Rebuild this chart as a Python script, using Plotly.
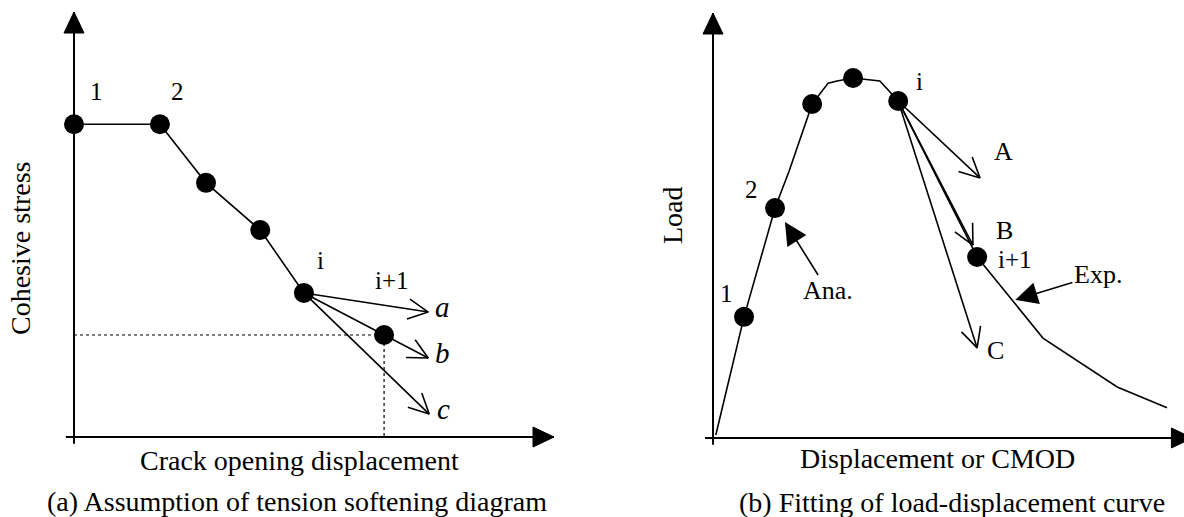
import math
import plotly.graph_objects as go

W, H = 1184, 517
FONT = "Liberation Serif"

# ---------------- data (arbitrary units) ----------------
# (a) tension softening diagram: points 1, 2, ..., i
cod = [0.00, 1.79, 2.75, 3.88, 4.79]
stress = [7.36, 7.36, 5.98, 4.87, 3.39]
cod_next = [6.46]          # point i+1
stress_next = [2.40]
trial_names = ["a", "b", "c"]
trial_cod = [7.38, 7.38, 7.40]
trial_stress = [2.94, 1.86, 0.54]

# (b) load-displacement curve (experiment) and analysed points
exp_disp = [0.06, 0.66, 1.32, 1.62, 2.11, 2.45, 2.64, 2.98, 3.55, 3.94, 5.62, 7.02, 8.60, 9.66]
exp_load = [0.07, 2.85, 5.41, 6.28, 7.86, 8.35, 8.40, 8.47, 8.40, 7.93, 4.26, 2.35, 1.20, 0.71]
ana_disp = [0.66, 1.32, 2.11, 2.98, 3.94, 5.62]
ana_load = [2.85, 5.41, 7.86, 8.47, 7.93, 4.26]
fit_names = ["A", "B", "C"]
fit_disp = [5.68, 5.53, 5.62]
fit_load = [6.12, 4.54, 2.12]

# ---------------- layout geometry (pixels) ----------------
PA = dict(x0=74, y0=437, sx=48.0, sy=42.5, xa="x", ya="y")
PB = dict(x0=713, y0=438, sx=47.0, sy=42.5, xa="x2", ya="y2")
AXA = (-0.17, 10.0, -0.16, 10.0)
AXB = (-0.17, 10.2, -0.16, 10.0)

fig = go.Figure()


def line(xs, ys, p, width=1.6, dash="solid"):
    fig.add_trace(go.Scatter(x=xs, y=ys, xaxis=p["xa"], yaxis=p["ya"], mode="lines",
                             line=dict(color="black", width=width, dash=dash),
                             hoverinfo="skip", showlegend=False, cliponaxis=False))


def head_pts(tx, ty, fx, fy, p, length, half):
    sx, sy = p["sx"], p["sy"]
    dx, dy = (tx - fx) * sx, (ty - fy) * sy
    n = math.hypot(dx, dy)
    ux, uy = dx / n, dy / n
    bx, by = tx * sx - length * ux, ty * sy - length * uy
    px, py = -uy, ux
    l = ((bx + half * px) / sx, (by + half * py) / sy)
    r = ((bx - half * px) / sx, (by - half * py) / sy)
    return l, (tx, ty), r


def open_heads(tips_x, tips_y, fx, fy, p, length=20, half=10):
    xs, ys = [], []
    for tx, ty in zip(tips_x, tips_y):
        l, t, r = head_pts(tx, ty, fx, fy, p, length, half)
        xs += [l[0], t[0], r[0], None]
        ys += [l[1], t[1], r[1], None]
    line(xs, ys, p, width=1.6)


def filled_head(tx, ty, fx, fy, p, length=21, half=10):
    l, t, r = head_pts(tx, ty, fx, fy, p, length, half)
    fig.add_trace(go.Scatter(x=[l[0], t[0], r[0], l[0]], y=[l[1], t[1], r[1], l[1]],
                             xaxis=p["xa"], yaxis=p["ya"], mode="lines", fill="toself",
                             fillcolor="black", line=dict(color="black", width=1),
                             hoverinfo="skip", showlegend=False, cliponaxis=False))


def axes_arrows(p, ext):
    xmin, xmax, ymin, ymax = ext
    line([xmin, xmax], [0, 0], p, width=2)
    line([0, 0], [ymin, ymax], p, width=2)
    filled_head(xmax, 0, 0, 0, p)
    filled_head(0, ymax, 0, 0, p)


def dots(xs, ys, p):
    fig.add_trace(go.Scatter(x=xs, y=ys, xaxis=p["xa"], yaxis=p["ya"], mode="markers",
                             marker=dict(size=20, color="black", line=dict(width=0)),
                             hoverinfo="skip", showlegend=False, cliponaxis=False))


# ---------------- panel (a) ----------------
axes_arrows(PA, AXA)
line([0, cod_next[0], cod_next[0]], [stress_next[0], stress_next[0], 0], PA, width=1.2, dash="dot")
line(cod, stress, PA)
xs, ys = [], []
for tx, ty in zip(trial_cod, trial_stress):
    xs += [cod[-1], tx, None]
    ys += [stress[-1], ty, None]
line(xs, ys, PA)
open_heads(trial_cod, trial_stress, cod[-1], stress[-1], PA)
dots(cod + cod_next, stress + stress_next, PA)

# ---------------- panel (b) ----------------
axes_arrows(PB, AXB)
line(exp_disp, exp_load, PB)
xs, ys = [], []
for tx, ty in zip(fit_disp, fit_load):
    xs += [ana_disp[4], tx, None]
    ys += [ana_load[4], ty, None]
line(xs, ys, PB)
open_heads(fit_disp, fit_load, ana_disp[4], ana_load[4], PB)
dots(ana_disp, ana_load, PB)

# ---------------- text ----------------
ann = []


def txt(s, x, y, p=None, size=25, angle=0):
    d = dict(text=s, x=x, y=y, showarrow=False, xanchor="center", yanchor="middle",
             textangle=angle, font=dict(family=FONT, size=size, color="black"))
    if p is None:
        d.update(xref="paper", yref="paper", x=x / W, y=1 - y / H)
    else:
        d.update(xref=p["xa"], yref=p["ya"])
    ann.append(d)


# panel (a) labels
txt("1", 0.46, 8.14, PA)
txt("2", 2.15, 8.14, PA)
txt("i", 5.13, 4.16, PA)
txt("i+1", 6.63, 3.69, PA)
for s, tx, ty in zip(trial_names, trial_cod, trial_stress):
    txt("<i>%s</i>" % s, tx + 0.29, ty + 0.12, PA, size=29)
txt("Cohesive stress", 20, 249, size=28, angle=-90)
txt("Crack opening displacement", 299, 460, size=28)
txt("(a) Assumption of tension softening diagram", 297, 501, size=28)

# panel (b) labels
txt("1", 0.28, 3.41, PB)
txt("2", 0.81, 5.84, PB)
txt("i", 4.40, 8.38, PB)
txt("A", 6.19, 6.73, PB, size=26)
txt("B", 6.21, 4.89, PB, size=26)
txt("i+1", 6.43, 4.19, PB)
txt("C", 6.00, 2.05, PB, size=26)
txt("Load", 672, 215, size=28, angle=-90)
txt("Displacement or CMOD", 937, 458, size=28)
txt("(b) Fitting of load-displacement curve", 952, 502, size=28)

# callout arrows
for s, tip, pos in [("Ana.", (1.53, 5.08), (2.45, 3.46)), ("Exp.", (6.43, 3.25), (8.19, 3.84))]:
    ann.append(dict(text=s, x=tip[0], y=tip[1], ax=pos[0], ay=pos[1], xref="x2", yref="y2",
                    axref="x2", ayref="y2", showarrow=True, arrowhead=2, arrowsize=2.8,
                    arrowwidth=1.6, arrowcolor="black", standoff=0,
                    font=dict(family=FONT, size=26, color="black")))

fig.update_layout(
    width=W, height=H, margin=dict(l=0, r=0, t=0, b=0),
    paper_bgcolor="white", plot_bgcolor="white", showlegend=False,
    annotations=ann,
    xaxis=dict(domain=[0, 0.5], range=[-PA["x0"] / PA["sx"], (592 - PA["x0"]) / PA["sx"]],
               visible=False, fixedrange=True),
    yaxis=dict(domain=[0, 1], range=[-(H - PA["y0"]) / PA["sy"], PA["y0"] / PA["sy"]],
               visible=False, fixedrange=True),
    xaxis2=dict(domain=[0.5, 1], range=[(592 - PB["x0"]) / PB["sx"], (W - PB["x0"]) / PB["sx"]],
                visible=False, fixedrange=True, anchor="y2"),
    yaxis2=dict(domain=[0, 1], range=[-(H - PB["y0"]) / PB["sy"], PB["y0"] / PB["sy"]],
                visible=False, fixedrange=True, anchor="x2"),
)
fig.write_html("out.html", config={"displayModeBar": False},
               post_script="document.body.style.margin='0';document.body.style.overflow='hidden';")
